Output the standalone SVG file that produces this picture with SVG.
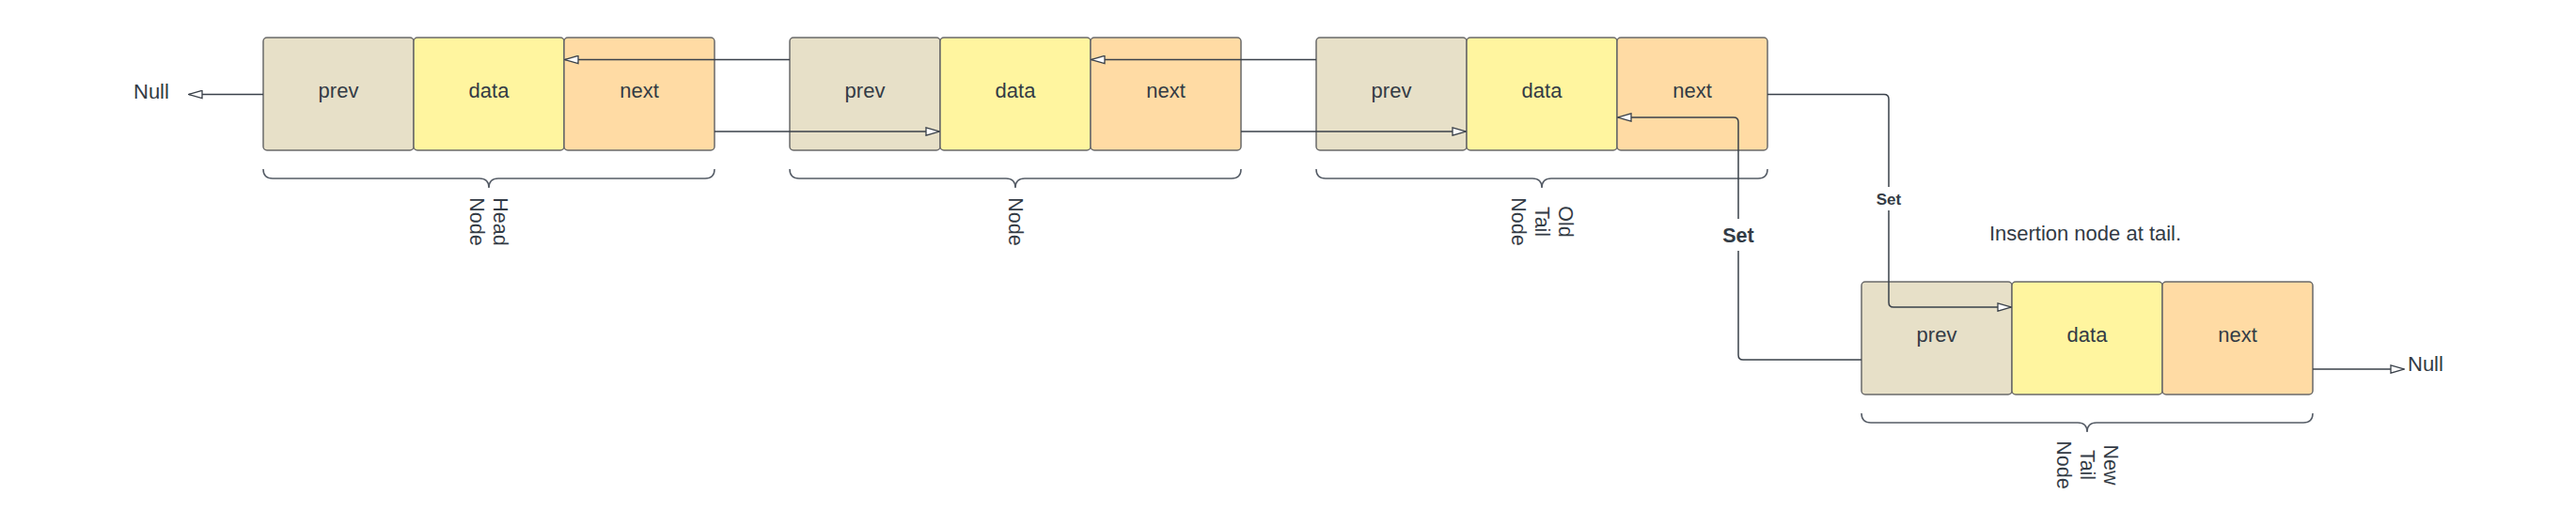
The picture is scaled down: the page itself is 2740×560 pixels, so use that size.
<svg xmlns="http://www.w3.org/2000/svg" width="2740" height="560" viewBox="0 0 2740 560">
<style>
  text { font-family: "Liberation Sans", Arial, sans-serif; fill: #333b45; }
  .t { font-size: 22px; text-anchor: middle; }
  .lbl { font-size: 21.5px; text-anchor: middle; }
  .prev { fill: #e7e0c8; stroke: #6a6a6a; stroke-width: 1.5; }
  .data { fill: #fff59f; stroke: #6a6a6a; stroke-width: 1.5; }
  .next { fill: #ffdba4; stroke: #6a6a6a; stroke-width: 1.5; }
  .brace { fill: none; stroke: #555c66; stroke-width: 1.5; }
  .conn { fill: none; stroke: #3a414a; stroke-width: 1.5; marker-end: url(#arr); }
  .set { font-weight: bold; text-anchor: middle; }
</style>
<defs>
  <marker id="arr" viewBox="0 0 16 10" refX="15" refY="5" markerWidth="16" markerHeight="10" markerUnits="userSpaceOnUse" orient="auto">
    <path d="M1,0.8 L15,5 L1,9.2 Z" fill="#ffffff" stroke="#3a414a" stroke-width="1.3"/>
  </marker>
</defs>
<rect width="2740" height="560" fill="#ffffff"/>

<g id="head-node">
  <rect class="prev" x="280" y="40" width="160" height="120" rx="4"/>
  <rect class="data" x="440" y="40" width="160" height="120" rx="4"/>
  <rect class="next" x="600" y="40" width="160" height="120" rx="4"/>
  <text class="t" x="360" y="104">prev</text>
  <text class="t" x="520" y="104">data</text>
  <text class="t" x="680" y="104">next</text>
  <path class="brace" d="M280,180 Q280,190 290,190 L510,190 Q520,190 520,200 Q520,190 530,190 L750,190 Q760,190 760,180"/>
  <g transform="translate(520,236) rotate(90)">
    <text class="lbl" x="0" y="-5">Head</text>
    <text class="lbl" x="0" y="20">Node</text>
  </g>
</g>

<g id="node">
  <rect class="prev" x="840" y="40" width="160" height="120" rx="4"/>
  <rect class="data" x="1000" y="40" width="160" height="120" rx="4"/>
  <rect class="next" x="1160" y="40" width="160" height="120" rx="4"/>
  <text class="t" x="920" y="104">prev</text>
  <text class="t" x="1080" y="104">data</text>
  <text class="t" x="1240" y="104">next</text>
  <path class="brace" d="M840,180 Q840,190 850,190 L1070,190 Q1080,190 1080,200 Q1080,190 1090,190 L1310,190 Q1320,190 1320,180"/>
  <g transform="translate(1080,236) rotate(90)">
    <text class="lbl" x="0" y="7.5">Node</text>
  </g>
</g>

<g id="old-tail-node">
  <rect class="prev" x="1400" y="40" width="160" height="120" rx="4"/>
  <rect class="data" x="1560" y="40" width="160" height="120" rx="4"/>
  <rect class="next" x="1720" y="40" width="160" height="120" rx="4"/>
  <text class="t" x="1480" y="104">prev</text>
  <text class="t" x="1640" y="104">data</text>
  <text class="t" x="1800" y="104">next</text>
  <path class="brace" d="M1400,180 Q1400,190 1410,190 L1630,190 Q1640,190 1640,200 Q1640,190 1650,190 L1870,190 Q1880,190 1880,180"/>
  <g transform="translate(1640,236) rotate(90)">
    <text class="lbl" x="0" y="-17.5">Old</text>
    <text class="lbl" x="0" y="7.5">Tail</text>
    <text class="lbl" x="0" y="32.5">Node</text>
  </g>
</g>

<g id="new-tail-node">
  <rect class="prev" x="1980" y="300" width="160" height="120" rx="4"/>
  <rect class="data" x="2140" y="300" width="160" height="120" rx="4"/>
  <rect class="next" x="2300" y="300" width="160" height="120" rx="4"/>
  <text class="t" x="2060" y="364">prev</text>
  <text class="t" x="2220" y="364">data</text>
  <text class="t" x="2380" y="364">next</text>
  <path class="brace" d="M1980,440 Q1980,450 1990,450 L2210,450 Q2220,450 2220,460 Q2220,450 2230,450 L2450,450 Q2460,450 2460,440"/>
  <g transform="translate(2220,495) rotate(90)">
    <text class="lbl" x="0" y="-17.5">New</text>
    <text class="lbl" x="0" y="7.5">Tail</text>
    <text class="lbl" x="0" y="32.5">Node</text>
  </g>
</g>

<g id="null-left">
  <text x="142" y="105" font-size="22">Null</text>
</g>
<g id="null-right">
  <text x="2561" y="394.5" font-size="22">Null</text>
</g>
<g id="caption">
  <text x="2218" y="256" font-size="22" text-anchor="middle">Insertion node at tail.</text>
</g>

<g id="connectors">
  <path class="conn" d="M280,100.5 L201,100.5"/>
  <path class="conn" d="M840,63.5 L601,63.5"/>
  <path class="conn" d="M760,140 L999,140"/>
  <path class="conn" d="M1400,63.5 L1161,63.5"/>
  <path class="conn" d="M1320,140 L1559,140"/>
  <path class="conn" d="M1880,100.5 L2004,100.5 Q2009,100.5 2009,105.5 L2009,322 Q2009,327 2014,327 L2139,327"/>
  <path class="conn" d="M1980,383 L1854,383 Q1849,383 1849,378 L1849,130 Q1849,125 1844,125 L1721,125"/>
  <path class="conn" d="M2460,393 L2557,393"/>
  <rect x="1992" y="199" width="34" height="25" fill="#ffffff"/>
  <text class="set" x="2009" y="217.5" font-size="17">Set</text>
  <rect x="1829" y="233" width="40" height="34" fill="#ffffff"/>
  <text class="set" x="1849" y="258" font-size="21.5">Set</text>
</g>
</svg>
